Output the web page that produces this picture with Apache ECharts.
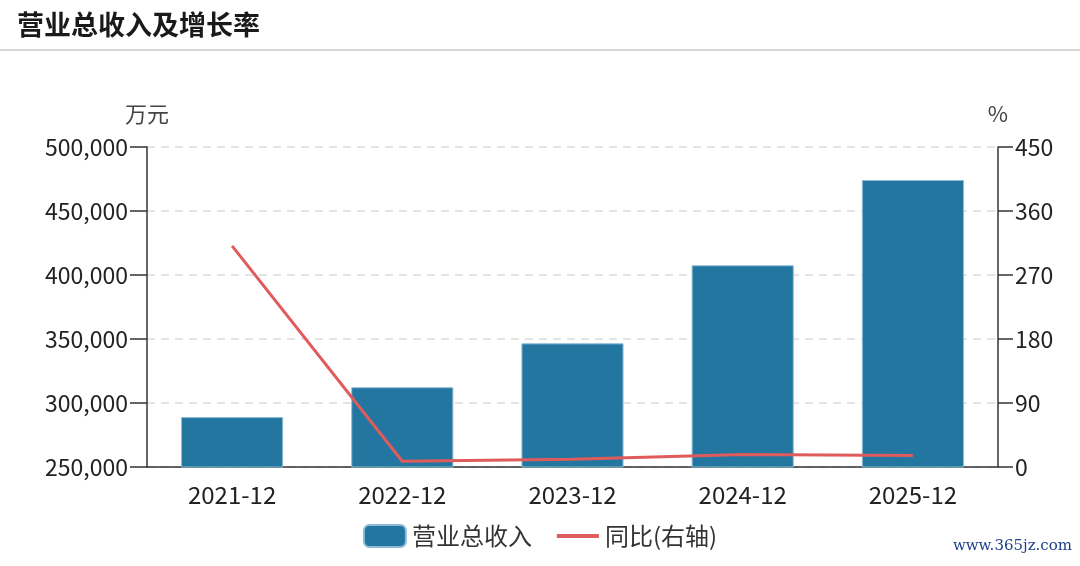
<!DOCTYPE html>
<html><head><meta charset="utf-8">
<script src="https://cdn.jsdelivr.net/npm/echarts@6/dist/echarts.min.js"></script>
<style>html,body{margin:0;padding:0;background:#fff}#c{width:1080px;height:566px}</style>
</head><body><div id="c"></div>
<script>
const categories = ['2021-12','2022-12','2023-12','2024-12','2025-12'];
const revenue = [289000, 312300, 346600, 407600, 474200];
const yoy = [311, 8.1, 11.0, 17.6, 16.3];
const leftTicks = [250000, 500000, 50000];
const rightTicks = [0, 450, 90];

const FONT = '"Noto Sans CJK SC", "Noto Sans", sans-serif';
const chart = echarts.init(document.getElementById('c'));
chart.setOption({
  animation: false,
  textStyle: { fontFamily: FONT },
  title: {
    text: '营业总收入及增长率', left: 12, top: 6,
    textStyle: { fontSize: 27, fontWeight: 'bold', color: '#1a1a1a', fontFamily: FONT }
  },
  graphic: [
    { type: 'line', shape: { x1: 0, y1: 50, x2: 1080, y2: 50 }, style: { stroke: '#c8c8c8', lineWidth: 1.5 } },
    { type: 'text', right: 8, bottom: 12, style: { text: 'www.365jz.com', fill: '#1e3f8a', font: '15px "DejaVu Serif", serif' } }
  ],
  legend: {
    bottom: 13, left: 'center', itemWidth: 42, itemHeight: 22, itemGap: 25,
    textStyle: { fontSize: 24, color: '#333', fontFamily: FONT, padding: [0, 0, 0, 1] },
    data: [
      { name: '营业总收入', icon: 'roundRect' },
      { name: '同比(右轴)', icon: 'path://M0,0H40V4H0Z' }
    ]
  },
  grid: { left: 147, right: 82, top: 147, bottom: 99, containLabel: false },
  xAxis: {
    type: 'category', data: categories,
    axisLine: { lineStyle: { color: '#333', width: 1.5 } },
    axisTick: { alignWithLabel: true, length: 16, lineStyle: { color: '#333', width: 1.5 } },
    axisLabel: { fontSize: 24, color: '#222', margin: 16 }
  },
  yAxis: [
    {
      type: 'value', name: '万元', min: leftTicks[0], max: leftTicks[1], interval: leftTicks[2],
      nameTextStyle: { fontSize: 22, color: '#444', padding: [0, 0, 4, 0] }, nameGap: 18,
      axisLine: { show: true, lineStyle: { color: '#333', width: 1.5 } },
      axisTick: { show: true, length: 17, lineStyle: { color: '#333', width: 1.5 } },
      axisLabel: { fontSize: 23, color: '#222', margin: 19,
        formatter: v => v.toLocaleString('en-US') },
      splitLine: { lineStyle: { color: '#dcdcdc', type: [8, 6], width: 1.5 } }
    },
    {
      type: 'value', name: '%', min: rightTicks[0], max: rightTicks[1], interval: rightTicks[2],
      nameTextStyle: { fontSize: 22, color: '#444', padding: [0, 0, 4, 0] }, nameGap: 18,
      axisLine: { show: true, lineStyle: { color: '#333', width: 1.5 } },
      axisTick: { show: true, length: 15, lineStyle: { color: '#333', width: 1.5 } },
      axisLabel: { fontSize: 23, color: '#222', margin: 17 },
      splitLine: { show: false }
    }
  ],
  series: [
    {
      name: '营业总收入', type: 'bar', data: revenue, barWidth: '60%',
      itemStyle: { color: '#2376a0', borderColor: '#8dbcd6', borderWidth: 1 }
    },
    {
      name: '同比(右轴)', type: 'line', yAxisIndex: 1, data: yoy,
      symbol: 'none', lineStyle: { color: '#e05b5b', width: 3 }, itemStyle: { color: '#e05b5b' }
    }
  ]
});
</script></body></html>
